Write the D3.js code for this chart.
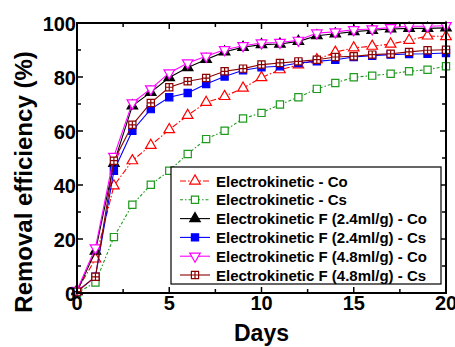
<!DOCTYPE html>
<html>
<head>
<meta charset="utf-8">
<script src="https://cdn.jsdelivr.net/npm/d3@7"></script>
<style>
  body { margin: 0; background: #fff; }
  svg { font-family: "Liberation Sans", Arial, sans-serif; font-weight: bold; }
</style>
</head>
<body>
<div id="chart"></div>
<script>
// removal efficiency vs days, six electrokinetic runs
const days = d3.range(0, 21);
const ekCo   = [1, 12.6, 39.7, 49, 54.7, 60.5, 65.8, 70.6, 72.8, 75.9, 79.8, 82.7, 84.5, 86.4, 89.2, 90.8, 91.4, 92.2, 93.6, 95.2, 95];
const ekCs   = [0, 3.9, 20.7, 32.7, 40.1, 45.3, 51.5, 57, 60.1, 64.6, 66.7, 69.8, 72.5, 75.6, 77.8, 79.9, 80.5, 81.2, 82.1, 82.7, 84];
const f24Co  = [0.5, 15.5, 48, 69.3, 74.3, 79.8, 83.5, 86.5, 89.3, 91, 92, 92.2, 93.2, 95.3, 96, 96.8, 97.3, 97.8, 98, 98, 98.2];
const f24Cs  = [0.5, 6, 45.3, 60.1, 68.1, 72.5, 74.1, 77.4, 80.2, 82.5, 83.6, 84, 85.2, 85.8, 86.4, 87.4, 87.9, 88.3, 88.5, 88.6, 88.9];
const f48Co  = [1, 16.7, 50.6, 70.4, 75.6, 81.5, 85.2, 87.7, 90.1, 91.6, 92.6, 92.8, 93.6, 96.3, 96.7, 97.5, 97.8, 98.3, 98.8, 98.8, 99];
const f48Cs  = [0.5, 6, 49, 62.3, 70.4, 76.2, 78.4, 79.6, 82.1, 83.1, 84.6, 85.2, 85.8, 86.4, 87.4, 87.7, 88.3, 88.6, 89.3, 89.9, 90.1];
const labels = ["Electrokinetic - Co", "Electrokinetic - Cs", "Electrokinetic F (2.4ml/g) - Co",
  "Electrokinetic F (2.4ml/g) - Cs", "Electrokinetic F (4.8ml/g) - Co", "Electrokinetic F (4.8ml/g) - Cs"];
const xTicks = [0, 5, 10, 15, 20];
const yTicks = [0, 20, 40, 60, 80, 100];

const series = [
  { name: labels[0], values: ekCo,  color: "#ff0000", dash: "6,2,1.5,2", marker: "triUp",   fill: "#fff" },
  { name: labels[1], values: ekCs,  color: "#1e9a1e", dash: "3,2,1.5,2", marker: "square",  fill: "#fff" },
  { name: labels[2], values: f24Co, color: "#000000", dash: null,        marker: "triUp",   fill: "#000" },
  { name: labels[3], values: f24Cs, color: "#0000ff", dash: null,        marker: "square",  fill: "#0000ff" },
  { name: labels[4], values: f48Co, color: "#ff00ff", dash: null,        marker: "triDown", fill: "#fff" },
  { name: labels[5], values: f48Cs, color: "#8b0000", dash: null,        marker: "cross",   fill: "#fff" }
];

const W = 455, H = 347;
const m = { left: 77, right: 9, top: 23, bottom: 54 };
const svg = d3.select("#chart").append("svg").attr("width", W).attr("height", H);

const x = d3.scaleLinear().domain([0, 20]).range([m.left, W - m.right]);
const y = d3.scaleLinear().domain([0, 100]).range([H - m.bottom, m.top]);

// frame + inward ticks on all sides
const x0 = x(0), x1 = x(20), y0 = y(0), y1 = y(100);
const tk = svg.append("g").attr("stroke", "#000").attr("stroke-width", 1.5);
d3.range(0, 20.01, 2.5).forEach(d => {
  const L = d % 5 === 0 ? 6 : 4;
  tk.append("line").attr("x1", x(d)).attr("x2", x(d)).attr("y1", y0).attr("y2", y0 - L);
  tk.append("line").attr("x1", x(d)).attr("x2", x(d)).attr("y1", y1).attr("y2", y1 + L);
});
d3.range(0, 100.01, 10).forEach(v => {
  const L = v % 20 === 0 ? 6 : 4;
  tk.append("line").attr("x1", x0).attr("x2", x0 + L).attr("y1", y(v)).attr("y2", y(v));
  tk.append("line").attr("x1", x1).attr("x2", x1 - L).attr("y1", y(v)).attr("y2", y(v));
});

const sym = {
  triUp: d3.symbol().type(d3.symbolTriangle).size(48),
  triDown: d3.symbol().type(d3.symbolTriangle).size(48),
  square: d3.symbol().type(d3.symbolSquare).size(52),
  cross: d3.symbol().type(d3.symbolSquare).size(52)
};
function drawMarker(g, s, cx, cy) {
  const t = `translate(${cx},${cy})` + (s.marker === "triDown" ? " rotate(180)" : "");
  g.append("path").attr("d", sym[s.marker]()).attr("transform", t)
    .attr("fill", s.fill).attr("stroke", s.color).attr("stroke-width", 1.2);
  if (s.marker === "cross") {
    g.append("path").attr("d", "M-3.6,0H3.6M0,-3.6V3.6").attr("transform", t)
      .attr("stroke", s.color).attr("stroke-width", 1.2);
  }
}

const line = d3.line().x((v, i) => x(days[i])).y(v => y(v));
series.forEach(s => {
  const g = svg.append("g");
  g.append("path").attr("d", line(s.values)).attr("fill", "none").attr("stroke", s.color)
    .attr("stroke-width", 1.1).attr("stroke-dasharray", s.dash);
  s.values.forEach((v, i) => drawMarker(g, s, x(days[i]), y(v)));
});

// frame on top of data
svg.append("rect").attr("x", x0).attr("y", y1).attr("width", x1 - x0).attr("height", y0 - y1)
  .attr("fill", "none").attr("stroke", "#000").attr("stroke-width", 2);

// tick labels
svg.append("g").selectAll("text").data(xTicks).join("text")
  .attr("x", d => x(d)).attr("y", y0 + 17).attr("text-anchor", "middle")
  .attr("font-size", 20).text(d => d);
svg.append("g").selectAll("text").data(yTicks).join("text")
  .attr("x", x0 - 1).attr("y", d => y(d) + 8).attr("text-anchor", "end")
  .attr("font-size", 20).text(d => d);

// axis titles
svg.append("text").attr("x", (x0 + x1) / 2).attr("y", 341).attr("text-anchor", "middle")
  .attr("font-size", 23).text("Days");
svg.append("text").attr("transform", `translate(32,${(y0 + y1) / 2 + 24}) rotate(-90)`)
  .attr("text-anchor", "middle").attr("font-size", 24).text("Removal efficiency (%)");

// legend
const lg = svg.append("g");
lg.append("rect").attr("x", 171).attr("y", 167).attr("width", 270).attr("height", 117)
  .attr("fill", "#fff").attr("stroke", "#000").attr("stroke-width", 1.2);
series.forEach((s, i) => {
  const cy = 181 + i * 18.8;
  lg.append("line").attr("x1", 180).attr("x2", 210).attr("y1", cy).attr("y2", cy)
    .attr("stroke", s.color).attr("stroke-width", 1.1).attr("stroke-dasharray", s.dash);
  drawMarker(lg, s, 195, cy);
  lg.append("text").attr("x", 216).attr("y", cy + 5.5).attr("font-size", 15).text(s.name);
});
</script>
</body>
</html>
